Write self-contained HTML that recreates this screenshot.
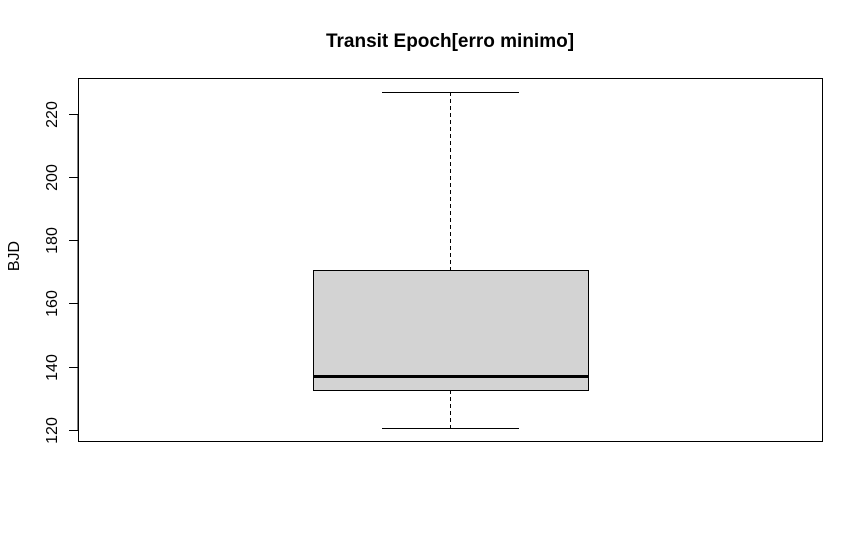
<!DOCTYPE html>
<html><head><style>body{margin:0;background:#fff}svg{display:block}</style></head>
<body>
<svg width="863" height="540" xmlns="http://www.w3.org/2000/svg" font-family="Liberation Sans, sans-serif">
<rect width="863" height="540" fill="#fff"/>
<text x="450" y="47" font-size="19" font-weight="bold" text-anchor="middle">Transit Epoch[erro minimo]</text>
<rect x="78.5" y="78.5" width="744" height="363" fill="none" stroke="#000" stroke-width="1"/>
<g stroke="#000" stroke-width="1">
<line x1="78" y1="114.5" x2="69" y2="114.5"/>
<line x1="78" y1="177.5" x2="69" y2="177.5"/>
<line x1="78" y1="240.5" x2="69" y2="240.5"/>
<line x1="78" y1="303.5" x2="69" y2="303.5"/>
<line x1="78" y1="367.5" x2="69" y2="367.5"/>
<line x1="78" y1="430.5" x2="69" y2="430.5"/>
<line x1="78" y1="114" x2="78" y2="431"/>
</g>
<g font-size="16" text-anchor="middle">
<text transform="translate(57,114.5) rotate(-90)">220</text>
<text transform="translate(57,177.5) rotate(-90)">200</text>
<text transform="translate(57,240.5) rotate(-90)">180</text>
<text transform="translate(57,303.5) rotate(-90)">160</text>
<text transform="translate(57,367.5) rotate(-90)">140</text>
<text transform="translate(57,430.5) rotate(-90)">120</text>
<text transform="translate(19,256) rotate(-90)">BJD</text>
</g>
<g stroke="#000" stroke-width="1">
<line x1="450.5" y1="92" x2="450.5" y2="270" stroke-dasharray="4,3"/>
<line x1="450.5" y1="390" x2="450.5" y2="428" stroke-dasharray="4,3"/>
<line x1="382" y1="92.5" x2="519" y2="92.5"/>
<line x1="382" y1="428.5" x2="519" y2="428.5"/>
<rect x="313.5" y="270.5" width="275" height="120" fill="#d3d3d3"/>
</g>
<line x1="313" y1="376.5" x2="589" y2="376.5" stroke="#000" stroke-width="3"/>
</svg>
</body></html>
